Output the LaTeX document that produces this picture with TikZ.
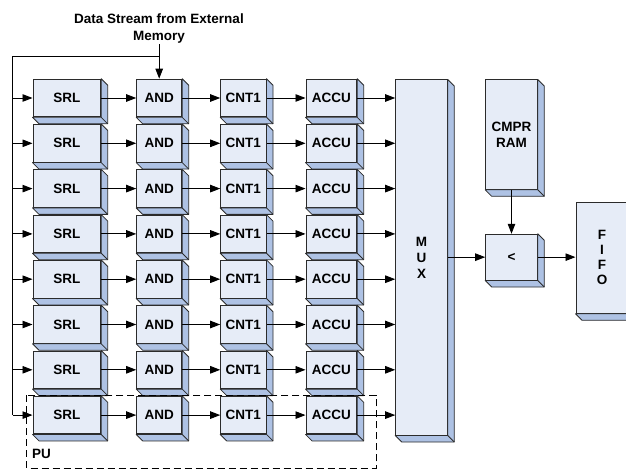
\documentclass[tikz,border=0pt]{standalone}
\usepackage{fontspec}
\setmainfont{Liberation Sans}
\usetikzlibrary{arrows.meta,calc}
\definecolor{front}{HTML}{E6ECF7}
\definecolor{side}{HTML}{AEC2E4}
\definecolor{edge}{HTML}{2B2B2B}
\newcommand\boxshade[1]{%
  \filldraw[draw=edge, line width=0.8pt, fill=side, line join=round]
    (#1.north east) -- ($(#1.north east)+(6.5,6.5)$) -- ($(#1.south east)+(6.5,6.5)$)
    -- ($(#1.south west)+(6.5,6.5)$) -- (#1.south west) -- (#1.south east) -- cycle;
  \draw[edge, line width=0.8pt] (#1.south east) -- ($(#1.south east)+(6.5,6.5)$);
}
\begin{document}
\begin{tikzpicture}[x=1pt,y=-1pt,
  blk/.style={draw=edge, line width=1pt, fill=front, inner sep=0pt,
    font=\fontsize{13.5}{16}\selectfont\bfseries, align=center},
  conn/.style={line width=0.9pt, draw=black, -{Triangle[length=10pt,width=7.5pt]}},
  plain/.style={line width=0.9pt, draw=black},
  lbl/.style={font=\fontsize{13.5}{16}\selectfont\bfseries, inner sep=1pt},
]
\useasboundingbox (0,0) rectangle (626,470);

% processing rows
\foreach \i in {1,...,8}{
  \pgfmathsetmacro\r{98+45.3*(\i-1)}
  \node[blk, minimum width=67.7pt, minimum height=37.6pt] (srl\i) at (66.85,\r) {SRL};
  \node[blk, minimum width=45pt, minimum height=37.6pt] (and\i) at (159.2,\r) {AND};
  \node[blk, minimum width=45.3pt, minimum height=37.6pt] (cnt\i) at (243.35,\r) {CNT1};
  \node[blk, minimum width=50.7pt, minimum height=37.6pt] (acc\i) at (331.35,\r) {ACCU};
  \boxshade{srl\i}
  \boxshade{and\i}
  \boxshade{cnt\i}
  \boxshade{acc\i}
}

% right-hand blocks
\node[blk, minimum width=51.6pt, minimum height=355pt, text depth=0pt] (mux) at (421.5,257.5)
  {\baselineskip=16pt M\\U\\X};
\node[blk, minimum width=51.6pt, minimum height=109.3pt] (cmpr) at (511.5,134.65)
  {CMPR\\RAM};
\node[blk, minimum width=51.6pt, minimum height=45.7pt] (cmp) at (511.5,257.15) {<};
\node[blk, minimum width=52pt, minimum height=111pt] (fifo) at (602,257.8)
  {F\\[-1pt]I\\[-1pt]F\\[-1pt]O};
\boxshade{mux}
\boxshade{cmpr}
\boxshade{cmp}
\boxshade{fifo}

% connectors along rows
\foreach \i in {1,...,8}{
  \draw[conn] (srl\i.east) -- (and\i.west);
  \draw[conn] (and\i.east) -- (cnt\i.west);
  \draw[conn] (cnt\i.east) -- (acc\i.west);
  \draw[conn] (acc\i.east) -- (mux.west |- acc\i.east);
}

% data stream input
\node[lbl, anchor=base] (ds1) at (159,23.6) {Data Stream from External};
\node[lbl, anchor=base] (ds2) at (159,40.3) {Memory};
\draw[conn] (and1.north |- ds2.south) -- (and1.north);
\coordinate (fb) at (12.7,56.7);
\draw[plain] (and1.north |- fb) -- (fb) -- (fb |- srl8.west);
\foreach \i in {1,...,8}{
  \draw[conn] (fb |- srl\i.west) -- (srl\i.west);
}

% comparator path
\draw[conn] (mux.east |- cmp.west) -- (cmp.west);
\draw[conn] (cmpr.south) -- (cmp.north);
\draw[conn] (cmp.east) -- (fifo.west |- cmp.east);

% processing unit frame
\draw[line width=0.9pt, dash pattern=on 7pt off 4pt] (26.7,395) rectangle (376,468);
\node[lbl, anchor=base west] (pu) at (31,458.7) {PU};
\end{tikzpicture}
\end{document}
